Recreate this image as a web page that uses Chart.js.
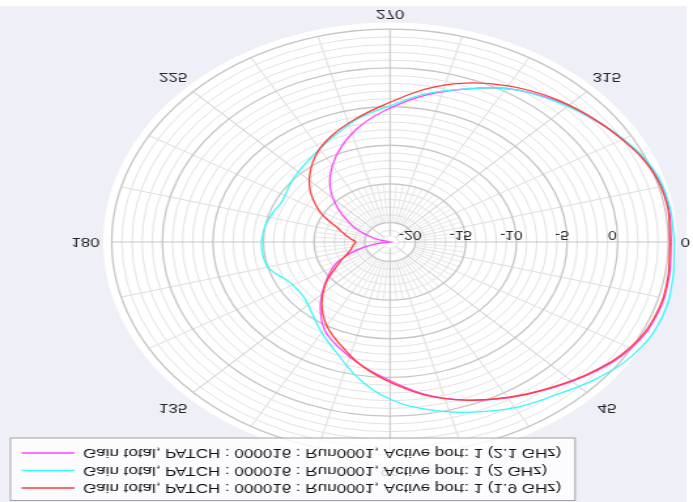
<!DOCTYPE html>
<html>
<head>
<meta charset="utf-8">
<script src="https://cdn.jsdelivr.net/npm/chart.js@4.4.1/dist/chart.umd.min.js"></script>
<style>
  html, body { margin: 0; padding: 0; background: #fff; overflow: hidden; }
  #wrap { position: relative; width: 693px; height: 502px; overflow: hidden; }
  /* the reference picture is stretched sideways and mirrored top to bottom */
  #gain { position: absolute; left: 0; top: 0; transform-origin: 0 0;
          transform: translateY(502px) scale(1.3075, -1); }
</style>
</head>
<body>
<div id="wrap"><canvas id="gain" width="530" height="502"></canvas></div>
<script>
// angle (deg) and total gain (dB)
const angles = [0, 10, 20, 30, 40, 50, 60, 70, 80, 90, 100, 110, 120, 130, 140, 150, 155, 160, 165, 170, 175,
  180, 185, 190, 195, 200, 205, 210, 220, 230, 240, 250, 260, 270, 280, 290, 300, 310, 320, 330, 340, 350];

const gain19 = [5.15, 5.35, 5.4, 4.85, 3.6, 2.1, 0.7, -0.75, -2.4, -4.4, -6.3, -8.3, -10.0, -12.0, -14.2, -16.5, -17.3, -18.0, -18.45, -18.7, -18.9,
  -19.1, -18.7, -18.2, -17.6, -16.9, -15.7, -14.4, -12.2, -10.3, -8.6, -7.25, -5.95, -4.45, -2.45, -0.65, 0.8, 2.0, 3.0, 4.0, 4.95, 5.3];

const gain20 = [5.6, 5.85, 6.1, 5.7, 4.6, 3.2, 2.2, 0.9, -0.5, -2.2, -4.6, -7.2, -9.0, -10.5, -11.4, -11.4, -11.1, -10.5, -10.0, -9.85, -9.8,
  -9.8, -9.9, -10.0, -10.2, -10.4, -10.6, -10.5, -9.95, -9.4, -8.6, -7.5, -6.1, -4.9, -3.1, -1.5, 0.4, 1.7, 2.9, 4.1, 5.15, 5.5];

const gain21 = [5.3, 5.45, 5.5, 5.0, 3.7, 2.2, 0.75, -0.75, -2.5, -4.6, -6.3, -7.9, -9.5, -11.8, -14.1, -16.0, -17.1, -18.4, -19.8, -21.2, -22.4,
  -23.5, -23.5, -22.6, -21.4, -20.3, -19.2, -18.1, -15.8, -13.3, -11.1, -9.0, -7.0, -5.2, -3.3, -1.5, 0.4, 1.8, 2.9, 4.05, 5.05, 5.4];

const seriesLabels = [
  'Gain total, PATCH : 000016 : Run0001, Active port: 1 (1.9 GHz)',
  'Gain total, PATCH : 000016 : Run0001, Active port: 1 (2 GHz)',
  'Gain total, PATCH : 000016 : Run0001, Active port: 1 (2.1 GHz)'
];
const seriesColors = ['#ff3c3c', '#3cf8f8', '#ff46ff'];

const angleTicks = [0, 45, 90, 135, 180, 225, 270, 315];
const radialTicks = [-20, -15, -10, -5, 0];
const R_MIN = -22.5;
const R_MAX = 5;

// canvas layout
const W = 530, H = 502;
const CX = 298.3, CY = 260, PX = 7.74;
const PAD_L = 12, PAD_T = 3;

function toXY(values) {
  const pts = angles.map((a, i) => {
    const r = Math.max(0, values[i] - R_MIN);
    const t = a * Math.PI / 180;
    return { x: r * Math.cos(t), y: r * Math.sin(t) };
  });
  pts.push(pts[0]);
  return pts;
}

const polarGrid = {
  id: 'polarGrid',
  beforeDraw(chart) {
    const ctx = chart.ctx;
    const xs = chart.scales.x, ys = chart.scales.y;
    const at = (r, deg) => {
      const t = deg * Math.PI / 180;
      return [xs.getPixelForValue(r * Math.cos(t)), ys.getPixelForValue(r * Math.sin(t))];
    };
    const cx = xs.getPixelForValue(0), cy = ys.getPixelForValue(0);
    const k = xs.getPixelForValue(1) - cx;
    const rad = db => Math.max(0, db - R_MIN);
    const outer = rad(R_MAX);

    ctx.save();
    ctx.fillStyle = '#fff';
    ctx.fillRect(0, 0, chart.width, chart.height);
    ctx.fillStyle = '#eeeff7';
    ctx.fillRect(0, 0, 525, 496);
    ctx.fillStyle = '#fff';
    ctx.beginPath();
    ctx.arc(cx, cy, (outer + 0.85) * k, 0, 2 * Math.PI);
    ctx.fill();

    const spoke = (deg, r0, r1, color) => {
      const p0 = at(r0, deg), p1 = at(r1, deg);
      ctx.strokeStyle = color;
      ctx.lineWidth = 1;
      ctx.beginPath();
      ctx.moveTo(p0[0], p0[1]);
      ctx.lineTo(p1[0], p1[1]);
      ctx.stroke();
    };
    for (let a = 0; a < 360; a += 5) {
      if (a % 45 === 0) continue;
      if (a % 15 === 0) spoke(a, rad(-20), outer, '#dedede');
      else spoke(a, rad(-20), rad(-15), '#e8e8e8');
    }
    for (let db = Math.ceil(R_MIN); db <= R_MAX; db++) {
      const major = db % 5 === 0;
      ctx.strokeStyle = major ? '#c6c6c6' : '#e3e3e3';
      ctx.lineWidth = major ? 1.3 : 1;
      ctx.beginPath();
      ctx.arc(cx, cy, rad(db) * k, 0, 2 * Math.PI);
      ctx.stroke();
    }
    for (let a = 0; a < 360; a += 45) spoke(a, 0, outer, '#c6c6c6');
    ctx.fillStyle = '#fff';
    ctx.strokeStyle = '#e6e6e6';
    ctx.beginPath();
    ctx.arc(cx, cy, 0.8 * k, 0, 2 * Math.PI);
    ctx.fill();
    ctx.stroke();

    // angle labels round the rim
    ctx.fillStyle = '#262626';
    ctx.font = '13px "Liberation Sans"';
    angleTicks.forEach(a => {
      const t = a * Math.PI / 180;
      const c = Math.cos(t), s = Math.sin(t);
      const onAxis = a % 90 === 0;
      const p = at(onAxis ? 28.7 : 30.3, a);
      ctx.textAlign = c > 0.9 ? 'left' : (c < -0.9 ? 'right' : 'center');
      ctx.textBaseline = s > 0.9 ? 'bottom' : (s < -0.9 ? 'top' : 'middle');
      ctx.fillText(String(a), p[0], p[1]);
    });
    // dB labels along the 0 deg spoke
    ctx.font = '12px "Liberation Sans"';
    ctx.textAlign = 'center';
    ctx.textBaseline = 'middle';
    radialTicks.forEach(v => {
      ctx.fillText(String(v), xs.getPixelForValue(rad(v)) - 4, cy + 8);
    });

    // legend frame
    const lg = chart.legend;
    if (lg && lg.legendHitBoxes && lg.legendHitBoxes.length) {
      const hb = lg.legendHitBoxes;
      const right = Math.max(...hb.map(h => h.left + h.width)) + 10;
      const last = hb[hb.length - 1];
      const bottom = last.top + last.height + 8.5;
      const left = lg.left - 4.5;
      ctx.fillStyle = 'rgba(255,255,255,0.82)';
      ctx.fillRect(left, 1.5, right - left, bottom - 1.5);
      ctx.strokeStyle = '#a3a3a3';
      ctx.lineWidth = 1;
      ctx.strokeRect(left + 0.5, 1.5, right - left, bottom - 1.5);
    }
    ctx.restore();
  }
};

Chart.defaults.font.family = '"Liberation Sans", Arial, sans-serif';

new Chart(document.getElementById('gain'), {
  type: 'scatter',
  data: {
    datasets: [gain19, gain20, gain21].map((vals, i) => ({
      label: seriesLabels[i],
      data: toXY(vals),
      showLine: true,
      borderColor: seriesColors[i],
      backgroundColor: seriesColors[i],
      borderWidth: 1.3,
      pointRadius: 0,
      tension: 0.4,
      clip: false
    }))
  },
  options: {
    responsive: false,
    animation: false,
    layout: { padding: { left: PAD_L, top: PAD_T, right: 0, bottom: 0 } },
    scales: {
      x: { display: false, min: -(CX - PAD_L) / PX, max: (W - CX) / PX },
      y: { display: false, min: -(H - CY) / PX, max: (CY - PAD_T) / PX }
    },
    plugins: {
      tooltip: { enabled: false },
      legend: {
        position: 'chartArea',
        align: 'start',
        title: { display: true, text: '', padding: 0, font: { size: 13, lineHeight: '3px' } },
        labels: {
          usePointStyle: true,
          pointStyle: 'line',
          pointStyleWidth: 40.5,
          padding: 4.5,
          color: '#111',
          font: { size: 13 }
        }
      }
    }
  },
  plugins: [polarGrid]
});
</script>
</body>
</html>
